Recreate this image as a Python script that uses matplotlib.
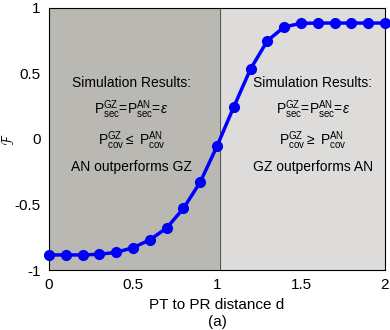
import matplotlib
matplotlib.use("Agg")
import matplotlib.pyplot as plt
import numpy as np

# data
d = [0.0, 0.1, 0.2, 0.3, 0.4, 0.5, 0.6, 0.7, 0.8, 0.9, 1.0,
     1.1, 1.2, 1.3, 1.4, 1.5, 1.6, 1.7, 1.8, 1.9, 2.0]
F = [-0.885, -0.885, -0.885, -0.88, -0.865, -0.83, -0.77, -0.68, -0.53, -0.33, -0.055,
     0.245, 0.535, 0.75, 0.855, 0.883, 0.885, 0.885, 0.885, 0.885, 0.885]
d_split = 1.02

plt.rcParams['font.family'] = ['Liberation Sans', 'DejaVu Sans']
plt.rcParams['mathtext.fontset'] = 'custom'
plt.rcParams['mathtext.rm'] = 'Liberation Sans'
plt.rcParams['mathtext.it'] = 'Liberation Sans:italic'

fig = plt.figure(figsize=(3.9, 3.3), dpi=100)
ax = fig.add_axes([0.1256, 0.1818, 0.8615, 0.794])

ax.axvspan(0, d_split, color='#bab8b3', zorder=0)
ax.axvspan(d_split, 2, color='#dddcda', zorder=0)
ax.axvline(d_split, color='#555555', lw=0.8, zorder=1)

ax.plot(d, F, color='#0000ff', lw=2.5, marker='o', ms=6.5, mfc='#0000ff',
        mec='#0000ee', mew=1.5, zorder=3, clip_on=False)

ax.set_xlim(0, 2)
ax.set_ylim(-1, 1)
ax.set_xticks([0, 0.5, 1, 1.5, 2])
ax.set_xticklabels(['0', '0.5', '1', '1.5', '2'])
ax.set_yticks([-1, -0.5, 0, 0.5, 1])
ax.set_yticklabels(['-1', '-0.5', '0', '0.5', '1'])
ax.tick_params(direction='in', length=0, labelsize=11, pad=6)
for s in ax.spines.values():
    s.set_linewidth(0.8)

ax.set_xlabel('PT to PR distance d\n(a)', fontsize=11, labelpad=4, linespacing=1.25)
ax.set_ylabel(r'$\mathcal{F}$', fontsize=11)
ax.yaxis.set_label_coords(-0.095, 0.5)

fs = 10
left = ['Simulation Results:',
        r'P$_{\rm sec}^{\rm GZ}$=P$_{\rm sec}^{\rm AN}$=$\epsilon$',
        r'P$_{\rm cov}^{\rm GZ}$$\leq$ P$_{\rm cov}^{\rm AN}$',
        'AN outperforms GZ']
right = ['Simulation Results:',
         r'P$_{\rm sec}^{\rm GZ}$=P$_{\rm sec}^{\rm AN}$=$\epsilon$',
         r'P$_{\rm cov}^{\rm GZ}$$\geq$ P$_{\rm cov}^{\rm AN}$',
         'GZ outperforms AN']
ys = [0.43, 0.22, -0.01, -0.215]
for t, y in zip(left, ys):
    ax.text(0.49, y, t, ha='center', va='center', fontsize=fs)
for t, y in zip(right, ys):
    ax.text(1.57, y, t, ha='center', va='center', fontsize=fs)

fig.savefig('out.png', dpi=100)
